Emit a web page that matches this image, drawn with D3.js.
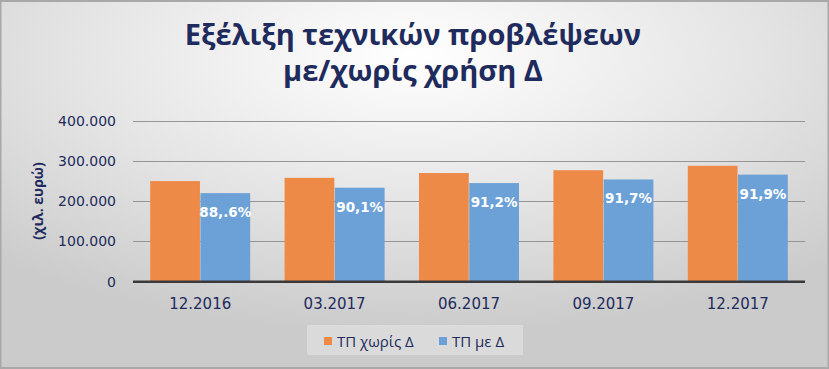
<!DOCTYPE html>
<html>
<head>
<meta charset="utf-8">
<script src="https://cdn.jsdelivr.net/npm/d3@7"></script>
<style>
  html, body { margin: 0; padding: 0; background: #fff; }
  svg { display: block; }
</style>
</head>
<body>
<svg id="chart" width="829" height="369"></svg>
<script>
const categories = ["12.2016", "03.2017", "06.2017", "09.2017", "12.2017"];
const seriesNames = ["ΤΠ χωρίς Δ", "ΤΠ με Δ"];
const withoutD = [250000, 258000, 270000, 277000, 288000];
const withD = [220000, 233500, 245000, 254000, 266000];
const pctLabels = ["88,.6%", "90,1%", "91,2%", "91,7%", "91,9%"];
const yTicks = [0, 100000, 200000, 300000, 400000];
const yTickLabels = ["0", "100.000", "200.000", "300.000", "400.000"];
const titleLines = ["Εξέλιξη τεχνικών προβλέψεων", "με/χωρίς χρήση Δ"];
const yAxisTitle = "(χιλ. ευρώ)";

const W = 829, H = 369;
const svg = d3.select("#chart");
const navy = "#1e2b5c";
const colors = ["#ee8a48", "#6ba1d7"];

// background
const defs = svg.append("defs");
const rg = defs.append("radialGradient").attr("id", "bg")
  .attr("cx", "50%").attr("cy", "15%").attr("r", "75%")
  .attr("fx", "50%").attr("fy", "15%");
rg.append("stop").attr("offset", "0%").attr("stop-color", "#ffffff");
rg.append("stop").attr("offset", "55%").attr("stop-color", "#e4e4e4");
rg.append("stop").attr("offset", "100%").attr("stop-color", "#cbcbcb");
svg.append("rect").attr("width", W).attr("height", H).attr("fill", "url(#bg)");
svg.append("rect").attr("x", 0.5).attr("y", 1).attr("width", W - 1).attr("height", H - 2)
  .attr("fill", "none").attr("stroke", "#a8a8a8").attr("stroke-width", 2);

// title
svg.append("text")
  .attr("x", 413).attr("y", 45)
  .attr("text-anchor", "middle")
  .attr("font-family", "'Open Sans', 'Noto Sans', sans-serif")
  .attr("font-weight", "bold")
  .attr("font-size", 29)
  .attr("fill", navy)
  .selectAll("tspan").data(titleLines).join("tspan")
  .attr("x", 413).attr("dy", (d, i) => i === 0 ? 0 : 36)
  .text(d => d);

// scales
const x0 = d3.scaleBand().domain(categories).range([133, 805])
  .paddingInner(0.256).paddingOuter(0.128);
const x1 = d3.scaleBand().domain([0, 1]).range([0, x0.bandwidth()]).paddingInner(0.01);
const y = d3.scaleLinear().domain([0, 400000]).range([281.7, 120.7]);

// gridlines
svg.append("g").selectAll("line").data(yTicks.filter(d => d > 0)).join("line")
  .attr("x1", 133).attr("x2", 805)
  .attr("y1", d => Math.round(y(d)) + 0.5).attr("y2", d => Math.round(y(d)) + 0.5)
  .attr("stroke", "#959595").attr("stroke-width", 1);

// y axis
const yAxis = d3.axisLeft(y).tickValues(yTicks).tickSize(0).tickPadding(0)
  .tickFormat((d, i) => yTickLabels[i]);
const gy = svg.append("g").attr("transform", "translate(116,0)").call(yAxis);
gy.select(".domain").remove();
gy.selectAll("text")
  .attr("font-family", "'DejaVu Sans', Verdana, sans-serif")
  .attr("font-size", 14).attr("fill", navy);

// y axis title
svg.append("text")
  .attr("transform", "translate(43,201) rotate(-90)")
  .attr("text-anchor", "middle")
  .attr("font-family", "'Open Sans', 'Noto Sans', sans-serif")
  .attr("font-weight", "bold")
  .attr("font-size", 14)
  .attr("fill", navy)
  .text(yAxisTitle);

// bars
const data = categories.map((c, i) => ({ c, vals: [withoutD[i], withD[i]], pct: pctLabels[i] }));
const groups = svg.append("g").selectAll("g").data(data).join("g")
  .attr("transform", d => `translate(${x0(d.c)},0)`);
groups.selectAll("rect").data(d => d.vals.map((v, k) => ({ v, k }))).join("rect")
  .attr("x", d => x1(d.k)).attr("width", x1.bandwidth())
  .attr("y", d => y(d.v)).attr("height", d => y(0) - y(d.v))
  .attr("fill", d => colors[d.k]);

// data labels
groups.append("text")
  .attr("x", x1(1) + x1.bandwidth() / 2)
  .attr("y", d => y(d.vals[1]) + 24)
  .attr("text-anchor", "middle")
  .attr("font-family", "'DejaVu Sans', Verdana, sans-serif")
  .attr("font-weight", "bold")
  .attr("font-size", 13.5)
  .attr("fill", "#ffffff")
  .text(d => d.pct);

// x axis
const xAxis = d3.axisBottom(x0).tickSize(0).tickPadding(0);
const gx = svg.append("g").attr("transform", "translate(0,282)").call(xAxis);
gx.select(".domain").remove();
gx.selectAll("text")
  .attr("font-family", "'DejaVu Sans', Verdana, sans-serif")
  .attr("font-size", 15).attr("fill", navy)
  .attr("dy", null).attr("y", 27);
svg.append("line").attr("x1", 133).attr("x2", 805)
  .attr("y1", y(0)).attr("y2", y(0))
  .attr("stroke", "#3a3a3a").attr("stroke-width", 2.5);

// legend
const lg = svg.append("g");
lg.append("rect").attr("x", 307).attr("y", 325).attr("width", 216).attr("height", 30)
  .attr("fill", "#ffffff").attr("fill-opacity", 0.3);
const legendX = [324, 439];
const items = lg.selectAll("g").data(seriesNames).join("g")
  .attr("transform", (d, i) => `translate(${legendX[i]},0)`);
items.append("rect").attr("x", 0).attr("y", 337).attr("width", 8).attr("height", 8)
  .attr("fill", (d, i) => colors[i]);
items.append("text").attr("x", 13).attr("y", 346.5)
  .attr("font-family", "'Open Sans', 'Noto Sans', sans-serif")
  .attr("font-size", 15).attr("fill", navy)
  .text(d => d);
</script>
</body>
</html>
